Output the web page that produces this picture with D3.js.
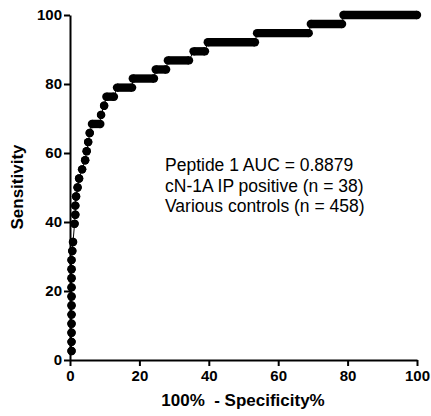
<!DOCTYPE html>
<html>
<head>
<meta charset="utf-8">
<script src="https://cdn.jsdelivr.net/npm/d3@7"></script>
<style>
  body { margin: 0; background: #fff; }
  svg { display: block; font-family: Arial, "Liberation Sans", sans-serif; }
</style>
</head>
<body>
<script>
// ROC curve, one entry per sensitivity level (n = 38 positives)
var sensitivity = [2.63, 5.26, 7.89, 10.53, 13.16, 15.79, 18.42, 21.05, 23.68, 26.32,
  28.95, 31.58, 34.21, 39.47, 42.11, 44.74, 47.37, 50.00, 52.63, 55.26,
  57.89, 60.53, 63.16, 65.79, 68.42, 71.05, 73.68, 76.32, 78.95, 81.58,
  84.21, 86.84, 89.47, 92.11, 94.74, 97.37, 100];
// 100% - specificity where each level starts and ends
var fprFrom = [0.44, 0.44, 0.44, 0.44, 0.44, 0.44, 0.44, 0.44, 0.44, 0.44,
  0.44, 0.66, 0.87, 1.31, 1.53, 1.53, 1.75, 2.18, 2.62, 3.49,
  4.37, 4.80, 5.24, 5.68, 6.33, 8.95, 9.83, 10.48, 13.54, 18.1,
  24.7, 28.2, 35.6, 39.7, 53.9, 69.4, 78.8];
var fprTo = [0.44, 0.44, 0.44, 0.44, 0.44, 0.44, 0.44, 0.44, 0.44, 0.44,
  0.44, 0.66, 0.87, 1.31, 1.53, 1.53, 1.75, 2.18, 2.62, 3.49,
  4.37, 4.80, 5.24, 5.68, 8.73, 8.95, 9.83, 12.66, 17.9, 24.2,
  27.7, 34.3, 38.9, 53.3, 68.8, 78.4, 100];

var xTicks = [0, 20, 40, 60, 80, 100];
var yTicks = [0, 20, 40, 60, 80, 100];
var notes = ['Peptide 1 AUC = 0.8879', 'cN-1A IP positive (n = 38)', 'Various controls (n = 458)'];

var width = 431, height = 416;
var r = 4.2;

var svg = d3.select('body').append('svg').attr('width', width).attr('height', height);

var x = d3.scaleLinear().domain([0, 100]).range([70, 417]);
var y = d3.scaleLinear().domain([0, 100]).range([360, 15]);

var levels = sensitivity.map(function (s, i) {
  return { s: s, a: fprFrom[i], b: fprTo[i] };
});

// thin connecting line through the points
var verts = [];
levels.forEach(function (d) { verts.push([d.a, d.s]); verts.push([d.b, d.s]); });
svg.append('path')
  .datum(verts)
  .attr('fill', 'none')
  .attr('stroke', '#000')
  .attr('stroke-width', 1)
  .attr('d', d3.line().x(function (d) { return x(d[0]); }).y(function (d) { return y(d[1]); }));

// plateaus are dense runs of points, drawn as a band
svg.selectAll('line.band')
  .data(levels.filter(function (d) { return d.b > d.a; }))
  .enter().append('line')
  .attr('class', 'band')
  .attr('x1', function (d) { return x(d.a); })
  .attr('x2', function (d) { return x(d.b); })
  .attr('y1', function (d) { return y(d.s); })
  .attr('y2', function (d) { return y(d.s); })
  .attr('stroke', '#000')
  .attr('stroke-width', r * 2);

svg.selectAll('circle')
  .data(verts)
  .enter().append('circle')
  .attr('cx', function (d) { return x(d[0]); })
  .attr('cy', function (d) { return y(d[1]); })
  .attr('r', r)
  .attr('fill', '#000');

// axes
var xAxis = svg.append('g')
  .attr('transform', 'translate(0,360)')
  .call(d3.axisBottom(x).tickValues(xTicks).tickSize(6).tickPadding(4).tickSizeOuter(0));
var yAxis = svg.append('g')
  .attr('transform', 'translate(70,0)')
  .call(d3.axisLeft(y).tickValues(yTicks).tickSize(6).tickPadding(2).tickSizeOuter(0));

[xAxis, yAxis].forEach(function (g) {
  g.select('.domain').attr('stroke', '#000').attr('stroke-width', 2);
  g.selectAll('.tick line').attr('stroke', '#000').attr('stroke-width', 2);
  g.selectAll('.tick text')
    .attr('fill', '#000')
    .style('font-family', 'Arial, "Liberation Sans", sans-serif')
    .style('font-size', '15px')
    .style('font-weight', 'bold');
});

svg.append('text')
  .attr('x', 243)
  .attr('y', 406)
  .attr('text-anchor', 'middle')
  .style('font-size', '17px')
  .style('font-weight', 'bold')
  .style('white-space', 'pre')
  .text('100%  - Specificity%');

svg.append('text')
  .attr('transform', 'translate(23,187) rotate(-90)')
  .attr('text-anchor', 'middle')
  .style('font-size', '17px')
  .style('font-weight', 'bold')
  .text('Sensitivity');

svg.selectAll('text.note')
  .data(notes)
  .enter().append('text')
  .attr('class', 'note')
  .attr('x', 165)
  .attr('y', function (d, i) { return 171 + i * 20.5; })
  .style('font-size', '17.5px')
  .text(function (d) { return d; });
</script>
</body>
</html>
